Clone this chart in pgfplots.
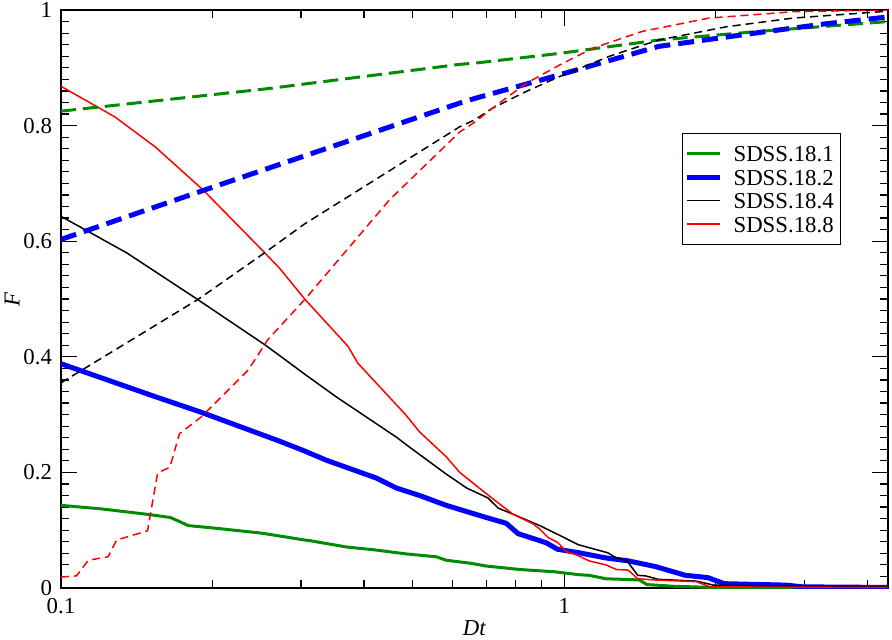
\documentclass[border=0pt]{standalone}
\usepackage{fontspec}
\setmainfont{Liberation Serif}
\usepackage{pgfplots}
\pgfplotsset{compat=1.18}
\usetikzlibrary{calc}
\definecolor{ggreen}{RGB}{0,139,0}
\begin{document}
\fontsize{11.4}{13}\selectfont
\begin{tikzpicture}[font=\fontsize{11.4}{13}\selectfont]
\begin{axis}[
 xmode=log, xmin=0.1, xmax=4.4, ymin=0, ymax=1,
 width=413.5pt, height=289pt, scale only axis,
 axis line style={line width=0.75pt},
 every tick/.style={line width=0.6pt, black},
 major tick length=8pt, minor tick length=4pt,
 tick align=inside,
 xtick={0.1,1}, xticklabels={0.1,1},
 minor xtick={0.2,0.3,0.4,0.5,0.6,0.7,0.8,0.9,2,3,4},
 ytick={0,0.2,0.4,0.6,0.8,1}, yticklabels={0,0.2,0.4,0.6,0.8,1},
 minor y tick num=9,
 xticklabel style={yshift=-1.2pt},
 yticklabel style={xshift=-0.5pt},
 /pgf/number format/assume math mode=true,
 xlabel={\textit{Dt}}, ylabel={\textit{F}},
 xlabel style={at={(axis description cs:0.5,-0.069)}, anchor=center},
 ylabel style={at={(axis description cs:-0.059,0.5)}, anchor=center},
 legend cell align=left,
 legend image code/.code={\draw[#1] (2pt,0pt) -- (18.5pt,0pt); \path (21.5pt,0pt);},
 legend style={at={(rel axis cs:0.751,0.787)}, anchor=north west, draw=black, line width=0.5pt,
   inner xsep=1pt, inner ysep=4pt, row sep=0pt,
   nodes={inner ysep=1.8pt, inner xsep=2.5pt, text height=8.2pt, text depth=0pt}},
]
\coordinate (bl) at (rel axis cs:0,0);
\coordinate (tr) at (rel axis cs:1,1);
% solid curves
\addplot[ggreen, line width=1.5pt] coordinates {
(0.1,0.143) (0.12,0.137) (0.15,0.127) (0.165,0.122) (0.171,0.116) (0.179,0.108)
(0.2,0.104) (0.25,0.095) (0.272,0.090) (0.305,0.083) (0.312,0.082) (0.369,0.071)
(0.42,0.066) (0.485,0.059) (0.557,0.054) (0.583,0.048) (0.65,0.043) (0.70,0.038)
(0.817,0.032) (0.96,0.028) (1.07,0.023) (1.12,0.022) (1.21,0.016) (1.41,0.014)
(1.46,0.006) (1.65,0.003) (1.98,0.001) (4.4,0.0)};
\addlegendentry{SDSS.18.1}
\addplot[blue, line width=2.5pt] coordinates {
(0.1,0.388) (0.154,0.331) (0.19,0.304) (0.272,0.254) (0.305,0.237) (0.337,0.221)
(0.424,0.190) (0.464,0.173) (0.516,0.160) (0.583,0.143) (0.70,0.122) (0.767,0.112)
(0.81,0.094) (0.894,0.082) (0.922,0.078) (0.97,0.067) (1.07,0.061) (1.21,0.052)
(1.34,0.047) (1.52,0.037) (1.74,0.022) (1.93,0.018) (2.08,0.0075) (2.76,0.005)
(2.98,0.002) (4.4,0.001)};
\addlegendentry{SDSS.18.2}
\addplot[black, line width=0.75pt] coordinates {
(0.1,0.643) (0.135,0.58) (0.187,0.499) (0.254,0.421) (0.272,0.402) (0.305,0.370)
(0.352,0.331) (0.464,0.261) (0.494,0.243) (0.583,0.197) (0.64,0.173) (0.705,0.156)
(0.74,0.138) (0.79,0.128) (0.894,0.108) (0.98,0.091) (1.066,0.075) (1.22,0.061)
(1.27,0.052) (1.33,0.048) (1.40,0.022) (1.45,0.021) (1.54,0.015) (1.83,0.012)
(1.98,0.005) (2.5,0.004) (4.4,0.002)};
\addlegendentry{SDSS.18.4}
\addplot[red, line width=0.75pt] coordinates {
(0.1,0.868) (0.128,0.815) (0.154,0.763) (0.192,0.688) (0.254,0.58) (0.272,0.553)
(0.305,0.50) (0.372,0.418) (0.389,0.389) (0.485,0.299) (0.516,0.270) (0.583,0.227)
(0.620,0.200) (0.68,0.172) (0.73,0.151) (0.79,0.128) (0.867,0.111) (0.894,0.102)
(0.93,0.087) (0.97,0.079) (1.01,0.063) (1.06,0.057) (1.12,0.047) (1.21,0.040)
(1.27,0.032) (1.34,0.031) (1.40,0.016) (1.50,0.014) (1.83,0.011) (1.95,0.002)
(4.4,0.001)};
\addlegendentry{SDSS.18.8}
% dashed curves
\addplot[ggreen, line width=1.5pt, dash pattern=on 7.5pt off 3.5pt, forget plot] coordinates {
(0.1,0.825) (0.258,0.864) (0.62,0.906) (0.664,0.908) (0.98,0.925) (1.54,0.948)
(2.44,0.963) (4.4,0.98)};
\addplot[blue, line width=2.5pt, dash pattern=on 8pt off 4pt, forget plot] coordinates {
(0.1,0.603) (0.192,0.688) (0.62,0.839) (0.664,0.847) (0.98,0.888) (1.54,0.937)
(2.44,0.961) (3.3,0.976) (4.4,0.988)};
\addplot[black, line width=0.75pt, dash pattern=on 4pt off 2.5pt, forget plot] coordinates {
(0.1,0.355) (0.187,0.499) (0.254,0.580) (0.305,0.63) (0.62,0.798) (0.664,0.81)
(0.72,0.83) (0.84,0.859) (0.98,0.885) (1.23,0.92) (1.54,0.948) (2.1,0.971)
(2.85,0.986) (4.4,0.998)};
\addplot[red, line width=0.75pt, dash pattern=on 4pt off 2.5pt, forget plot] coordinates {
(0.1,0.019) (0.1074,0.021) (0.1133,0.048) (0.124,0.054) (0.129,0.083) (0.1486,0.099)
(0.1556,0.199) (0.1646,0.209) (0.172,0.267) (0.190,0.296) (0.2355,0.377) (0.2578,0.43)
(0.305,0.499) (0.366,0.58) (0.45,0.672) (0.62,0.789) (0.664,0.806) (0.72,0.83)
(0.84,0.873) (0.98,0.905) (1.14,0.934) (1.43,0.963) (1.94,0.986) (2.85,0.997)
(4.4,1.0)};
\end{axis}
\pgfresetboundingbox
\path[use as bounding box] ($(bl)+(-30.5pt,-25.5pt)$) rectangle ($(tr)+(2pt,5pt)$);
\end{tikzpicture}
\end{document}
